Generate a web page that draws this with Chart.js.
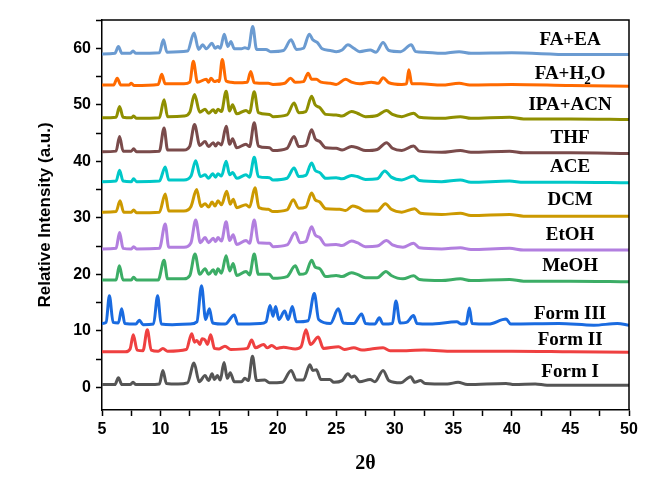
<!DOCTYPE html>
<html>
<head>
<meta charset="utf-8">
<script src="https://cdn.jsdelivr.net/npm/chart.js@4.4.1/dist/chart.umd.min.js"></script>
<style>
  html, body { margin: 0; padding: 0; background: #fff; }
  #wrap { width: 670px; height: 487px; position: relative; }
</style>
</head>
<body>
<div id="wrap"><canvas id="xrd"></canvas></div>
<script>
// patrones de difraccion: pares [2theta, intensidad]
const formI = [[5,0.5],[6.1,0.5],[6.4,1.7],[6.7,0.5],[7.4,0.5],[7.65,0.9],[7.9,0.5],[9.0,0.5],[9.9,0.6],[10.2,3.0],[10.5,0.7],[11.5,0.6],[12.3,0.8],[12.86,4.3],[13.3,1.0],[13.8,2.1],[14.1,1.2],[14.4,2.4],[14.6,1.4],[14.85,2.1],[15.1,1.3],[15.42,4.4],[15.7,1.6],[15.95,2.6],[16.3,1.0],[16.9,1.0],[17.2,1.6],[17.5,1.2],[17.85,5.5],[18.2,1.2],[18.9,1.3],[19.3,0.8],[20.4,0.9],[21.15,3.0],[21.6,1.3],[22.2,1.3],[22.75,4.0],[23.0,3.0],[23.3,3.1],[23.7,1.4],[24.45,1.4],[24.8,0.9],[25.5,1.2],[26.0,2.4],[26.3,1.8],[26.55,2.0],[27.0,1.0],[27.9,1.4],[28.3,1.0],[29.0,3.0],[29.5,1.2],[30.5,0.8],[31.35,1.9],[31.7,0.9],[32.2,1.2],[32.6,0.7],[34.5,0.6],[35.4,0.9],[36.2,0.5],[39.5,0.7],[40.2,0.5],[42,0.6],[43,0.4],[50,0.4]];

const formII = [[5,6.3],[7.0,6.3],[7.4,6.8],[7.67,9.3],[8.0,6.6],[8.5,6.5],[8.87,10.2],[9.2,6.6],[9.8,6.4],[10.2,6.9],[10.6,6.4],[12.2,6.7],[12.66,9.5],[12.9,8.0],[13.1,8.3],[13.35,7.6],[13.55,8.6],[13.8,8.4],[14.0,7.6],[14.28,9.3],[14.6,6.9],[15.0,6.8],[15.5,7.3],[16.0,6.7],[17.4,6.9],[17.78,8.4],[18.1,7.0],[18.8,7.6],[19.1,7.0],[19.5,7.4],[19.9,6.9],[20.5,7.1],[21.5,6.8],[22.0,7.2],[22.42,10.2],[22.8,7.6],[23.47,8.9],[23.9,6.9],[25.2,7.2],[25.7,6.7],[26.5,7.0],[27.2,6.6],[28.0,6.8],[29.0,7.0],[29.6,6.5],[31,6.5],[32.5,6.6],[35,6.4],[40,6.4],[45,6.3],[50,6.2]];

const formIII = [[5,11.3],[5.35,11.5],[5.63,16.2],[5.95,11.5],[6.4,11.4],[6.68,13.9],[6.95,11.3],[7.9,11.2],[8.19,11.9],[8.5,11.1],[9.4,11.2],[9.75,16.2],[10.05,11.2],[11,11.1],[12.5,11.2],[13.1,11.6],[13.5,18.0],[13.85,12.0],[14.17,13.9],[14.45,11.4],[15.5,11.2],[16.3,12.8],[16.6,11.2],[18.5,11.3],[19.0,11.6],[19.35,14.5],[19.6,12.6],[19.83,14.3],[20.1,12.0],[20.6,13.5],[20.9,12.0],[21.25,14.3],[21.6,11.6],[22.6,11.8],[23.13,16.6],[23.5,12.0],[24.5,11.3],[25.18,13.9],[25.6,11.4],[26.5,11.3],[27.17,13.0],[27.5,11.3],[28.3,11.2],[28.68,12.3],[29.0,11.2],[29.8,11.3],[30.1,15.3],[30.45,11.4],[31.0,11.5],[31.6,12.7],[31.9,11.3],[33,11.2],[35.3,11.6],[35.7,11.2],[36.1,11.3],[36.37,14.05],[36.6,11.3],[38,11.2],[39.5,12.1],[39.9,11.2],[44,11.3],[47,11.0],[49,11.3],[50,11.0]];

const meoh = [[5,19.0],[6.2,19.0],[6.48,21.5],[6.8,19.0],[7.5,19.0],[7.7,19.5],[7.95,19.0],[9.8,19.0],[10.3,22.5],[10.6,19.2],[12.0,19.2],[12.5,19.8],[12.94,23.6],[13.35,20.0],[13.8,21.0],[14.1,20.0],[14.5,20.8],[14.7,20.0],[14.9,21.0],[15.2,20.2],[15.6,23.3],[15.9,20.6],[16.2,21.9],[16.5,19.8],[17.3,20.5],[17.6,19.9],[18.0,23.6],[18.35,20.0],[19.3,20.0],[19.6,19.3],[20.8,19.6],[21.5,21.5],[21.9,20.0],[22.4,20.2],[22.9,22.5],[23.2,21.3],[23.6,21.0],[24.1,19.6],[25.0,19.8],[25.5,19.6],[26.3,20.3],[26.8,20.0],[27.5,19.4],[28.5,19.4],[29.25,20.5],[29.7,19.8],[30.7,19.2],[31.6,19.75],[32.1,19.1],[34,18.9],[35.6,19.2],[36.5,18.9],[39.8,19.1],[41,18.8],[45,18.8],[50,18.7]];

const etoh = [[5,24.5],[6.2,24.6],[6.5,27.4],[6.8,24.6],[7.5,24.5],[7.7,24.9],[7.95,24.5],[9.9,24.6],[10.4,28.9],[10.7,24.8],[12.0,24.8],[12.6,25.6],[13.0,29.6],[13.4,25.6],[13.8,26.5],[14.1,25.6],[14.5,26.4],[14.7,25.8],[14.9,26.5],[15.2,25.9],[15.6,29.3],[15.9,26.0],[16.2,27.0],[16.5,25.3],[17.3,26.0],[17.6,25.5],[18.0,29.6],[18.35,25.6],[19.3,25.5],[19.6,24.9],[20.8,25.2],[21.5,27.4],[21.9,25.6],[22.4,25.8],[22.9,28.4],[23.2,27.0],[23.6,26.5],[24.1,25.2],[25.0,25.3],[25.5,25.1],[26.3,25.9],[26.8,25.6],[27.5,24.9],[28.5,25.0],[29.3,26.0],[29.8,25.2],[30.7,24.8],[31.6,25.5],[32.1,24.7],[34,24.5],[35.6,24.7],[36.5,24.4],[39.8,24.6],[41,24.3],[45,24.3],[50,24.3]];

const dcm = [[5,31.0],[6.2,31.1],[6.54,33.0],[6.85,31.0],[7.5,31.0],[7.7,31.4],[7.95,30.9],[9.9,31.0],[10.4,34.2],[10.7,31.2],[12.0,31.2],[12.6,32.0],[13.08,35.0],[13.45,32.0],[13.8,32.5],[14.1,31.9],[14.4,32.8],[14.65,32.1],[14.9,33.0],[15.2,32.3],[15.65,34.7],[15.95,32.4],[16.2,33.3],[16.5,31.8],[17.3,32.3],[17.6,31.9],[18.06,35.3],[18.4,31.8],[19.2,31.5],[19.6,31.1],[20.8,31.4],[21.33,33.2],[21.8,31.7],[22.4,31.9],[22.9,34.4],[23.2,33.2],[23.6,32.8],[24.1,31.6],[25.3,31.5],[25.8,31.3],[26.4,32.1],[26.9,31.8],[27.5,31.2],[28.5,31.2],[29.2,32.5],[29.7,31.5],[30.6,31.0],[31.7,31.6],[32.2,30.8],[34,30.6],[35.6,30.8],[36.5,30.4],[39.8,30.6],[41,30.3],[45,30.3],[50,30.3]];

const ace = [[5,36.4],[6.2,36.5],[6.5,38.4],[6.8,36.5],[7.5,36.4],[7.7,36.9],[7.95,36.4],[9.9,36.5],[10.4,39.0],[10.7,36.7],[12.0,36.7],[12.6,37.4],[13.0,40.1],[13.4,37.3],[13.8,37.6],[14.1,37.0],[14.45,37.8],[14.7,37.2],[14.9,37.8],[15.2,37.4],[15.6,40.0],[15.9,37.6],[16.15,38.0],[16.5,37.0],[17.3,37.6],[17.6,37.2],[18.0,40.7],[18.35,37.3],[19.3,37.1],[19.6,36.7],[20.8,37.0],[21.4,38.8],[21.8,37.3],[22.4,37.5],[22.9,39.7],[23.2,38.4],[23.6,38.0],[24.1,37.0],[25.0,37.1],[25.5,36.9],[26.3,37.5],[26.8,37.3],[27.5,36.8],[28.5,36.9],[29.15,38.3],[29.7,37.2],[30.6,36.7],[31.6,37.4],[32.1,36.6],[34,36.4],[35.6,36.7],[36.5,36.3],[39.8,36.5],[41,36.3],[45,36.3],[50,36.2]];

const thf = [[5,41.7],[6.2,41.8],[6.5,44.4],[6.8,41.8],[7.5,41.8],[7.7,42.2],[7.95,41.7],[9.9,41.8],[10.3,45.9],[10.6,42.0],[12.0,42.0],[12.5,42.7],[12.9,46.5],[13.35,42.8],[13.8,43.5],[14.1,42.6],[14.5,43.3],[14.7,42.7],[14.9,43.3],[15.2,42.9],[15.6,46.2],[15.9,43.0],[16.15,44.0],[16.5,42.4],[17.3,43.0],[17.6,42.6],[18.0,46.8],[18.35,42.7],[19.3,42.4],[19.6,41.9],[20.8,42.3],[21.4,44.4],[21.8,42.6],[22.4,42.8],[22.9,45.6],[23.2,44.0],[23.6,43.5],[24.1,42.4],[25.0,42.3],[25.5,42.0],[26.3,42.6],[26.8,42.4],[27.5,41.9],[28.5,42.1],[29.3,43.3],[29.8,42.3],[30.6,41.9],[31.6,42.7],[32.1,41.8],[34,41.6],[35.6,41.9],[36.5,41.6],[39.8,41.8],[41,41.5],[45,41.5],[50,41.4]];

const ipaAcn = [[5,47.7],[6.2,47.8],[6.5,49.7],[6.8,47.8],[7.5,47.7],[7.7,48.0],[7.95,47.6],[9.9,47.7],[10.3,50.9],[10.6,47.9],[12.0,48.0],[12.5,48.7],[12.9,51.8],[13.35,48.7],[13.8,49.2],[14.1,48.5],[14.5,49.1],[14.7,48.6],[14.9,49.2],[15.2,48.8],[15.6,52.4],[15.9,48.9],[16.15,50.0],[16.5,48.4],[17.3,49.0],[17.6,48.6],[18.0,52.3],[18.35,48.6],[19.3,48.3],[19.6,47.9],[20.8,48.2],[21.4,50.3],[21.8,48.6],[22.4,48.8],[22.9,51.5],[23.2,50.0],[23.6,49.5],[24.1,48.3],[25.0,48.2],[25.5,48.0],[26.3,48.8],[26.8,48.5],[27.5,47.9],[28.5,48.1],[29.3,49.0],[29.8,48.3],[30.6,47.9],[31.6,48.5],[32.1,47.8],[34,47.6],[35.6,47.9],[36.5,47.6],[39.8,47.8],[41,47.5],[45,47.5],[50,47.4]];

const faH2o = [[5,53.5],[6.0,53.5],[6.3,54.7],[6.6,53.5],[7.3,53.5],[7.5,53.8],[7.75,53.4],[9.8,53.6],[10.1,55.4],[10.4,53.7],[12.0,53.7],[12.5,54.0],[12.8,57.7],[13.15,54.0],[13.9,54.5],[14.1,54.0],[14.3,54.7],[14.6,54.1],[14.9,54.3],[15.0,54.1],[15.27,58.0],[15.6,54.2],[16.0,54.0],[16.4,53.9],[17.4,54.0],[17.7,55.9],[18.0,53.9],[19.2,53.8],[19.6,53.6],[20.6,53.8],[21.1,54.7],[21.5,54.0],[22.2,54.1],[22.6,55.6],[22.9,54.5],[23.3,54.5],[23.7,54.0],[24.5,53.8],[25.0,53.6],[25.8,54.5],[26.3,54.0],[27.0,53.7],[28.0,54.0],[28.6,53.8],[29.0,54.8],[29.5,53.9],[30.6,53.6],[31.0,53.7],[31.2,56.2],[31.45,53.7],[32.2,53.7],[34,53.5],[35.5,53.8],[36.4,53.5],[40,53.6],[45,53.4],[50,53.3]];

const faEa = [[5,59.0],[6.1,59.1],[6.4,60.3],[6.7,59.1],[7.4,59.1],[7.65,59.5],[7.9,59.1],[9.9,59.2],[10.24,61.5],[10.55,59.3],[12.3,59.5],[12.86,62.7],[13.25,59.8],[13.6,60.6],[13.9,59.9],[14.4,60.9],[14.65,60.0],[14.9,60.3],[15.1,60.0],[15.44,62.5],[15.75,60.3],[16.0,61.2],[16.3,59.9],[16.9,59.9],[17.2,60.1],[17.5,59.9],[17.87,63.85],[18.2,59.8],[19.0,59.8],[19.4,59.4],[20.5,59.6],[21.14,61.5],[21.6,59.8],[22.2,60.0],[22.7,62.5],[23.0,61.5],[23.4,61.0],[23.8,59.9],[24.5,59.6],[25.0,59.4],[25.5,59.7],[26.0,60.6],[26.5,60.0],[27.0,59.4],[27.9,59.7],[28.4,59.3],[29.0,61.0],[29.5,59.6],[30.5,59.4],[31.4,60.6],[31.8,59.4],[32.5,59.3],[34,59.1],[35.5,59.4],[36.5,59.1],[40,59.2],[45,58.9],[50,58.9]];

const seriesData = [formI, formII, formIII, meoh, etoh, dcm, ace, thf, ipaAcn, faH2o, faEa];
const seriesNames = ['Form I', 'Form II', 'Form III', 'MeOH', 'EtOH', 'DCM', 'ACE', 'THF', 'IPA+ACN', 'FA+H2O', 'FA+EA'];
const seriesColors = ['#555555', '#ef4040', '#1a6be0', '#3cad66', '#b27fdf', '#cc9900', '#00c8c8', '#7a4b4b', '#8f8f00', '#ff6a00', '#6b9bd1'];
// posicion vertical (en unidades del eje y) de cada etiqueta
const labelY = [2.7, 8.4, 12.9, 21.5, 27.0, 33.2, 38.9, 44.1, 49.9, 55.4, 61.4];
const labelX = 44.97;

const yTicks = [0, 5, 10, 15, 20, 25, 30, 35, 40, 45, 50, 55, 60, 65];

const datasets = seriesData.map((pts, i) => ({
    label: seriesNames[i],
    data: pts.map(p => ({ x: p[0], y: p[1] })),
    borderColor: seriesColors[i],
    borderWidth: 3,
    pointRadius: 0,
    cubicInterpolationMode: 'monotone',
    fill: false
}));

// texto de cada patron y marco completo
const labelsPlugin = {
    id: 'labelsPlugin',
    afterDatasetsDraw(chart) {
        const { ctx, scales: { x, y } } = chart;
        ctx.save();
        ctx.fillStyle = '#000';
        ctx.textBaseline = 'middle';
        const big = 'bold 19px "Liberation Serif", "Times New Roman", serif';
        const small = 'bold 13px "Liberation Serif", "Times New Roman", serif';
        seriesNames.forEach((name, i) => {
            const cx = x.getPixelForValue(labelX);
            const cy = y.getPixelForValue(labelY[i]);
            if (name === 'FA+H2O') {
                ctx.font = big;
                const a = ctx.measureText('FA+H').width;
                const c = ctx.measureText('O').width;
                ctx.font = small;
                const b = ctx.measureText('2').width;
                let left = cx - (a + b + c) / 2;
                ctx.textAlign = 'left';
                ctx.font = big;
                ctx.fillText('FA+H', left, cy);
                ctx.font = small;
                ctx.fillText('2', left + a, cy + 6);
                ctx.font = big;
                ctx.fillText('O', left + a + b, cy);
            } else {
                ctx.font = big;
                ctx.textAlign = 'center';
                ctx.fillText(name, cx, cy);
            }
        });
        const area = chart.chartArea;
        ctx.strokeStyle = '#000';
        ctx.lineWidth = 1.5;
        ctx.beginPath();
        ctx.moveTo(area.left, area.top);
        ctx.lineTo(area.right, area.top);
        ctx.lineTo(area.right, area.bottom);
        ctx.stroke();
        ctx.restore();
    }
};

const tickFont = { family: '"Liberation Sans", Arial, sans-serif', weight: 'bold', size: 16 };

new Chart(document.getElementById('xrd'), {
    type: 'line',
    data: { datasets },
    options: {
        responsive: true,
        maintainAspectRatio: false,
        animation: false,
        layout: { padding: { top: 20, right: 41, left: 0, bottom: 0 } },
        plugins: { legend: { display: false }, tooltip: { enabled: false } },
        scales: {
            x: {
                type: 'linear',
                min: 5,
                max: 50,
                afterFit: s => { s.height = 77; },
                ticks: {
                    stepSize: 2.5,
                    autoSkip: false,
                    maxRotation: 0,
                    color: '#000',
                    font: tickFont,
                    padding: 4,
                    callback: v => (v % 5 === 0 ? v : '')
                },
                grid: { drawOnChartArea: false, tickLength: 6, tickColor: '#000', tickWidth: 1.5 },
                border: { color: '#000', width: 1.5 },
                title: {
                    display: true,
                    text: '2θ',
                    color: '#000',
                    font: { family: '"Liberation Serif", "Times New Roman", serif', weight: 'bold', size: 20 },
                    padding: { top: 0, bottom: 11 }
                }
            },
            y: {
                min: -4,
                max: 65,
                afterFit: s => { s.width = 102; },
                afterBuildTicks: s => { s.ticks = yTicks.map(v => ({ value: v })); },
                ticks: {
                    color: '#000',
                    font: tickFont,
                    padding: 5,
                    callback: v => (v % 10 === 0 ? v : '')
                },
                grid: { drawOnChartArea: false, tickLength: 6, tickColor: '#000', tickWidth: 1.5 },
                border: { color: '#000', width: 1.5 },
                title: {
                    display: true,
                    text: 'Relative Intensity (a.u.)',
                    color: '#000',
                    font: { family: '"Liberation Sans", Arial, sans-serif', weight: 'bold', size: 17 },
                    padding: { top: 35, bottom: 0 }
                }
            }
        }
    },
    plugins: [labelsPlugin]
});
</script>
</body>
</html>
